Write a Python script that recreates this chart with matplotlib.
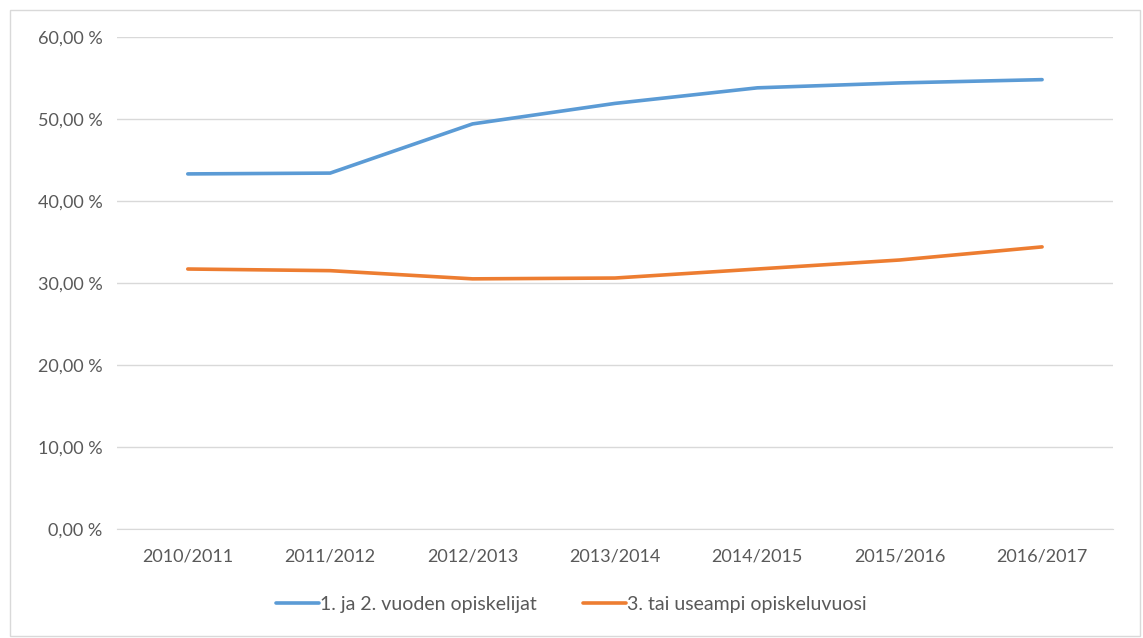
import matplotlib.pyplot as plt
from matplotlib.patches import Rectangle

years = ['2010/2011', '2011/2012', '2012/2013', '2013/2014',
         '2014/2015', '2015/2016', '2016/2017']
first_second = [43.3, 43.4, 49.4, 51.9, 53.8, 54.4, 54.8]
third_plus = [31.7, 31.5, 30.5, 30.6, 31.7, 32.8, 34.4]
yticks = [0, 10, 20, 30, 40, 50, 60]

plt.rcParams['font.family'] = ['Lato', 'DejaVu Sans']
grey = '#595959'

fig = plt.figure(figsize=(11.43, 6.38), dpi=100)
ax = fig.add_axes([0.102, 0.171, 0.872, 0.771])

x = range(len(years))
ax.plot(x, first_second, color='#5B9BD5', lw=2.6, solid_capstyle='round',
        label='1. ja 2. vuoden opiskelijat')
ax.plot(x, third_plus, color='#ED7D31', lw=2.6, solid_capstyle='round',
        label='3. tai useampi opiskeluvuosi')

ax.set_xlim(-0.5, len(years) - 0.5)
ax.set_ylim(0, 60)
ax.set_yticks(yticks)
ax.set_yticklabels([f'{v:.2f} %'.replace('.', ',') for v in yticks])
ax.set_xticks(list(x))
ax.set_xticklabels(years)
ax.tick_params(length=0, labelsize=13, colors=grey)
ax.tick_params(axis='x', pad=14)
ax.tick_params(axis='y', pad=10)
ax.grid(axis='y', color='#d9d9d9', lw=1)
ax.set_axisbelow(True)
for s in ['top', 'right', 'left']:
    ax.spines[s].set_visible(False)
ax.spines['bottom'].set_color('#d9d9d9')

leg = fig.legend(loc='center', bbox_to_anchor=(0.5, 0.053), ncol=2,
                 frameon=False, fontsize=14, handlelength=2.2,
                 handletextpad=0.05, columnspacing=2.4)
for t in leg.get_texts():
    t.set_color(grey)

fig.patches.append(Rectangle((0.009, 0.003), 0.988, 0.982, transform=fig.transFigure,
                             fill=False, edgecolor='#d9d9d9', lw=1))

fig.savefig('out.png', dpi=100)
